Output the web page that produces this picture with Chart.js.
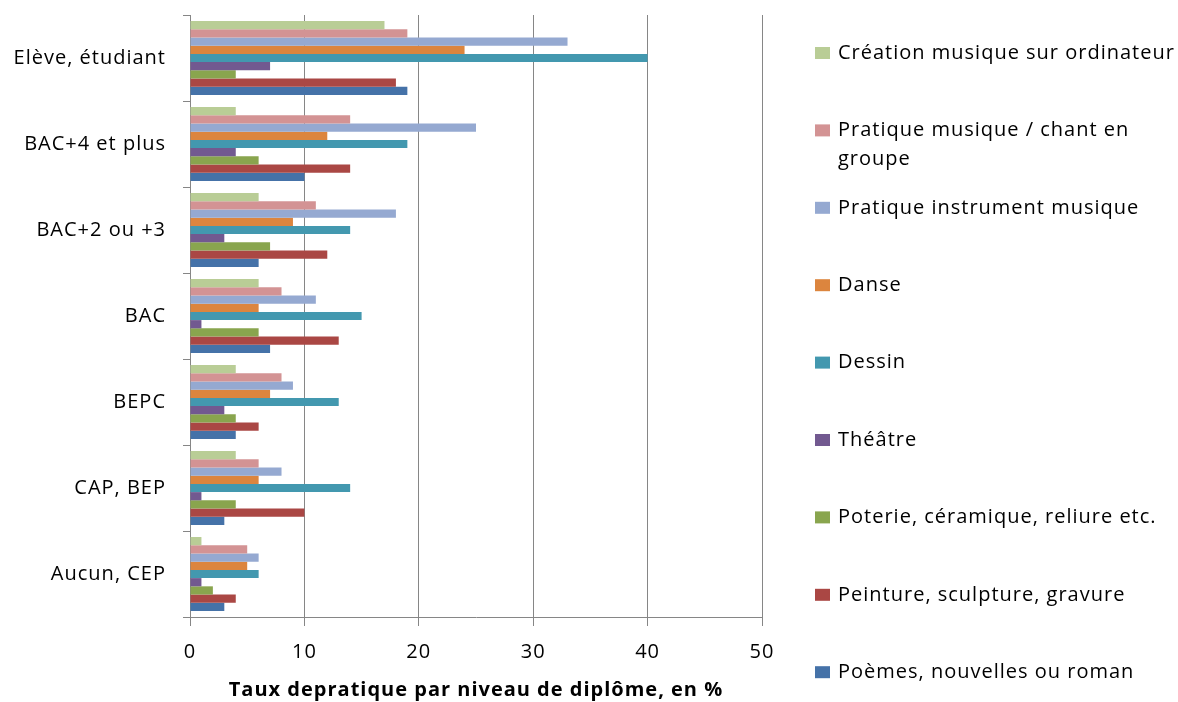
<!DOCTYPE html>
<html>
<head>
<meta charset="utf-8">
<script src="https://cdn.jsdelivr.net/npm/chart.js@4"></script>
<style>
  html, body { margin: 0; padding: 0; background: #ffffff; }
  #wrap { width: 1178px; height: 702px; position: relative; }
</style>
</head>
<body>
<div id="wrap"><canvas id="graficoPratiques"></canvas></div>
<script>
const niveaux = ["Elève, étudiant", "BAC+4 et plus", "BAC+2 ou +3", "BAC", "BEPC", "CAP, BEP", "Aucun, CEP"];

const creationMusique = [17, 4, 6, 6, 4, 4, 1];
const pratiqueChant = [19, 14, 11, 8, 8, 6, 5];
const pratiqueInstrument = [33, 25, 18, 11, 9, 8, 6];
const danse = [24, 12, 9, 6, 7, 6, 5];
const dessin = [40, 19, 14, 15, 13, 14, 6];
const theatre = [7, 4, 3, 1, 3, 1, 1];
const poterie = [4, 6, 7, 6, 4, 4, 2];
const peinture = [18, 14, 12, 13, 6, 10, 4];
const poemes = [19, 10, 6, 7, 4, 3, 3];

const xTicks = [0, 10, 20, 30, 40, 50];

const series = [
    { label: "Création musique sur ordinateur", data: creationMusique, color: "#B9CD96" },
    { label: "Pratique musique / chant en groupe", data: pratiqueChant, color: "#D39394" },
    { label: "Pratique instrument musique", data: pratiqueInstrument, color: "#95A9D1" },
    { label: "Danse", data: danse, color: "#DC853E" },
    { label: "Dessin", data: dessin, color: "#4398AF" },
    { label: "Théâtre", data: theatre, color: "#725990" },
    { label: "Poterie, céramique, reliure etc.", data: poterie, color: "#89A54E" },
    { label: "Peinture, sculpture, gravure", data: peinture, color: "#AA4744" },
    { label: "Poèmes, nouvelles ou roman", data: poemes, color: "#4572A8" }
];

const fontFamily = "'Open Sans', 'DejaVu Sans', sans-serif";

// the original text is spaced out a bit, canvas letterSpacing does that
const espacement = {
    id: "espacement",
    beforeLayout(chart) { chart.ctx.letterSpacing = "1px"; },
    beforeDraw(chart) { chart.ctx.letterSpacing = "1px"; }
};

// legend drawn on the right, evenly spaced like the original
const legendaDroite = {
    id: "legendaDroite",
    afterDraw(chart) {
        const c = chart.ctx;
        c.save();
        c.letterSpacing = "1px";
        c.font = "20px " + fontFamily;
        c.textBaseline = "middle";
        const x0 = 815, xt = 838, maxW = 1178 - xt - 1;
        chart.data.datasets.forEach((ds, i) => {
            const y = 53 + i * 77.4;
            c.fillStyle = ds.backgroundColor;
            c.fillRect(x0, y - 6, 15, 12);
            c.fillStyle = "#000000";
            const words = ds.label.split(" ");
            let line = "", lines = [];
            words.forEach(w => {
                const test = line ? line + " " + w : w;
                if (c.measureText(test).width > maxW && line) {
                    lines.push(line);
                    line = w;
                } else {
                    line = test;
                }
            });
            lines.push(line);
            lines.forEach((l, k) => c.fillText(l, xt, y + k * 29));
        });
        c.restore();
    }
};

const canvas = document.getElementById("graficoPratiques");

new Chart(canvas, {
    type: "bar",
    data: {
        labels: niveaux,
        datasets: series.map(s => ({
            label: s.label,
            data: s.data,
            backgroundColor: s.color,
            borderWidth: 0,
            barPercentage: 1.0,
            categoryPercentage: 0.86
        }))
    },
    options: {
        indexAxis: "y",
        responsive: true,
        maintainAspectRatio: false,
        animation: false,
        layout: {
            padding: { top: 15, right: 416, bottom: 0, left: 0 }
        },
        plugins: {
            legend: { display: false },
            tooltip: { enabled: false }
        },
        scales: {
            x: {
                min: 0,
                max: 50,
                afterBuildTicks: s => { s.ticks = xTicks.map(v => ({ value: v })); },
                afterFit: s => { s.height = 85; },
                ticks: {
                    color: "#000000",
                    font: { family: fontFamily, size: 20 },
                    padding: 14
                },
                grid: {
                    color: "#868686",
                    lineWidth: 1,
                    tickLength: 9
                },
                border: { color: "#868686", width: 1 },
                title: {
                    display: true,
                    text: "Taux depratique par niveau de diplôme, en %",
                    color: "#000000",
                    font: { family: fontFamily, size: 20, weight: "bold" },
                    padding: { top: 0, bottom: 0 }
                }
            },
            y: {
                afterFit: s => {
                    s.width = 190;
                    s.paddingTop = 0;
                    s.paddingBottom = 0;
                },
                ticks: {
                    color: "#000000",
                    font: { family: fontFamily, size: 20 },
                    padding: 17
                },
                grid: {
                    offset: true,
                    drawOnChartArea: false,
                    color: "#868686",
                    tickLength: 7
                },
                border: { color: "#868686", width: 1 }
            }
        }
    },
    plugins: [espacement, legendaDroite]
});
</script>
</body>
</html>
